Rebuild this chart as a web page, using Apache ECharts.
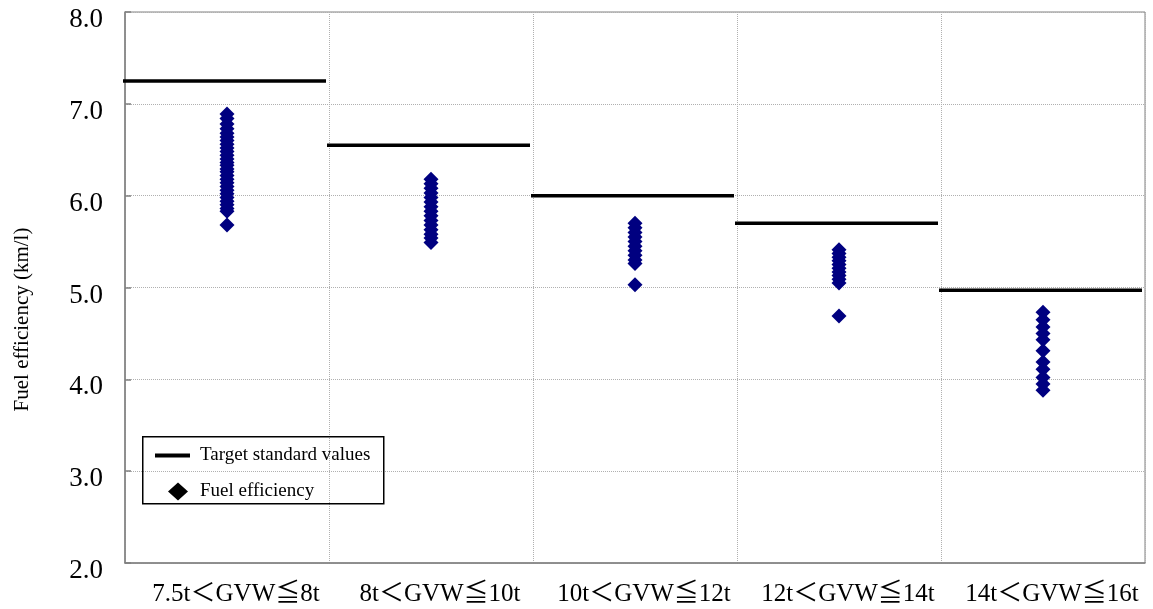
<!DOCTYPE html>
<html>
<head>
<meta charset="utf-8">
<script src="https://cdn.jsdelivr.net/npm/echarts@6/dist/echarts.min.js"></script>
<style>html,body{margin:0;padding:0;background:#fff}#c{width:1153px;height:609px}</style>
</head>
<body>
<div id="c"></div>
<script>
const categories = ['7.5t＜GVW≦8t', '8t＜GVW≦10t', '10t＜GVW≦12t', '12t＜GVW≦14t', '14t＜GVW≦16t'];
const targetValues = [7.25, 6.55, 6.00, 5.70, 4.97];
const eff1 = [6.89, 6.84, 6.78, 6.73, 6.68, 6.64, 6.60, 6.56, 6.52, 6.48, 6.44, 6.40, 6.36, 6.33, 6.29, 6.26, 6.22, 6.18, 6.14, 6.10, 6.06, 6.02, 5.98, 5.94, 5.90, 5.86, 5.83, 5.68];
const eff2 = [6.18, 6.13, 6.08, 6.03, 5.98, 5.93, 5.88, 5.83, 5.78, 5.73, 5.68, 5.63, 5.58, 5.54, 5.49];
const eff3 = [5.70, 5.65, 5.60, 5.55, 5.50, 5.45, 5.40, 5.35, 5.30, 5.26, 5.03];
const eff4 = [5.41, 5.37, 5.33, 5.29, 5.25, 5.21, 5.17, 5.13, 5.09, 5.05, 4.69];
const eff5 = [4.73, 4.65, 4.57, 4.50, 4.43, 4.31, 4.19, 4.11, 4.02, 3.95, 3.88];
const yTicks = [2, 3, 4, 5, 6, 7, 8];

const effGroups = [eff1, eff2, eff3, eff4, eff5];
const effData = [];
effGroups.forEach((g, i) => g.forEach(v => effData.push([i, v])));
const targetData = targetValues.map((v, i) => [i, v]);

const serif = "'Liberation Serif', 'Noto Sans CJK JP', serif";
const chart = echarts.init(document.getElementById('c'), null, {renderer: 'canvas'});
chart.setOption({
  animation: false,
  backgroundColor: '#fff',
  grid: {left: 125, right: 8, top: 12, bottom: 46, show: true, borderColor: '#808080', borderWidth: 1},
  legend: [{
    data: [{name: 'Target standard values', icon: 'rect'}],
    orient: 'vertical', left: 150, top: 441,
    itemWidth: 35, itemHeight: 4,
    textStyle: {fontFamily: serif, fontSize: 19, color: '#000', padding: [5, 0, 0, 5]}
  }, {
    data: [{name: 'Fuel efficiency', icon: 'diamond', itemStyle: {color: '#000'}}],
    orient: 'vertical', left: 163, top: 477,
    itemWidth: 20, itemHeight: 18,
    textStyle: {fontFamily: serif, fontSize: 19, color: '#000', padding: [0, 0, 0, 7]}
  }],
  graphic: [{
    type: 'rect', left: 142, top: 436, z: 100,
    shape: {width: 241, height: 67},
    style: {fill: 'transparent', stroke: '#000', lineWidth: 1.5}
  }],
  xAxis: {
    type: 'category', data: categories, boundaryGap: true,
    axisLine: {show: true, lineStyle: {color: '#808080', width: 1.5}},
    axisTick: {show: false},
    axisLabel: {
      color: '#000', margin: 19, interval: 0,
      formatter: v => '{x|' + v + '}',
      rich: {x: {fontFamily: serif, fontSize: 25, color: '#000', padding: [0, 0, 0, 18]}}
    },
    splitLine: {show: true, interval: 0, lineStyle: {color: '#b0b0b0', type: [1, 1], width: 1}}
  },
  yAxis: {
    type: 'value', min: 2, max: 8, interval: 1,
    name: 'Fuel efficiency (km/l)', nameLocation: 'middle', nameGap: 92,
    nameTextStyle: {fontFamily: serif, fontSize: 21, color: '#000', padding: [0, 64, 0, 0]},
    axisLine: {show: true, lineStyle: {color: '#808080', width: 1.5}},
    axisTick: {show: true, inside: true, length: 6, lineStyle: {color: '#808080', width: 1.5}},
    axisLabel: {
      color: '#000', margin: 22,
      formatter: v => yTicks.includes(v) ? '{y|' + v.toFixed(1) + '}' : '',
      rich: {y: {fontFamily: serif, fontSize: 27, color: '#000', padding: [16, 0, 0, 0]}}
    },
    splitLine: {show: true, lineStyle: {color: '#b0b0b0', type: [1, 1], width: 1}}
  },
  series: [{
    name: 'Target standard values',
    type: 'custom',
    data: targetData,
    encode: {x: 0, y: 1},
    itemStyle: {color: '#000'},
    z: 3,
    renderItem: function (params, api) {
      const c = api.coord([api.value(0), api.value(1)]);
      const w = api.size([1, 0])[0];
      return {
        type: 'line',
        shape: {x1: c[0] - w / 2 - 2, y1: c[1], x2: c[0] + w / 2 - 3, y2: c[1]},
        style: {stroke: '#000', lineWidth: 3.5}
      };
    }
  }, {
    name: 'Fuel efficiency',
    type: 'scatter',
    data: effData,
    symbol: 'diamond',
    symbolSize: [15, 15],
    itemStyle: {color: '#000080', opacity: 1},
    z: 4
  }]
});
</script>
</body>
</html>
